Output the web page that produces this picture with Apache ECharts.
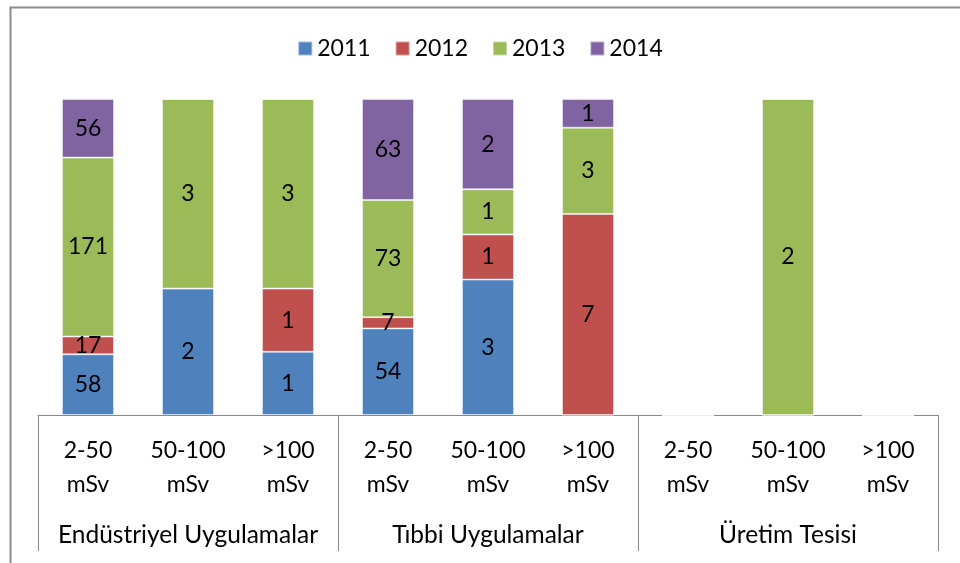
<!DOCTYPE html>
<html>
<head>
<meta charset="utf-8">
<script src="https://cdn.jsdelivr.net/npm/echarts@6/dist/echarts.min.js"></script>
<style>
  html, body { margin: 0; padding: 0; background: #fff; }
  #chart { width: 960px; height: 563px; }
</style>
</head>
<body>
<div id="chart"></div>
<script>
// dose ranges, repeated once per group
const categories = ['2-50\nmSv', '50-100\nmSv', '>100\nmSv',
                    '2-50\nmSv', '50-100\nmSv', '>100\nmSv',
                    '2-50\nmSv', '50-100\nmSv', '>100\nmSv'];
const groups = ['Endüstriyel Uygulamalar', 'Tıbbi Uygulamalar', 'Üretim Tesisi'];
const years = ['2011', '2012', '2013', '2014'];
const colors = ['#4F81BD', '#C0504D', '#9BBB59', '#8064A2'];

// raw counts per year (labels), bars are shown as share of column total
const v2011 = [58, 2, 1, 54, 3, 0, 0, 0, 0];
const v2012 = [17, 0, 1, 7, 1, 7, 0, 0, 0];
const v2013 = [171, 3, 3, 73, 1, 3, 0, 2, 0];
const v2014 = [56, 0, 0, 63, 2, 1, 0, 0, 0];

const raw = [v2011, v2012, v2013, v2014];
const totals = categories.map((c, i) => raw.reduce((s, arr) => s + arr[i], 0));
const pct = arr => arr.map((v, i) => totals[i] ? v / totals[i] * 100 : 0);

const font = 'Lato';
const chart = echarts.init(document.getElementById('chart'));

chart.setOption({
  animation: false,
  textStyle: { fontFamily: font },
  legend: {
    top: 32,
    left: 'center',
    icon: 'rect',
    itemWidth: 14,
    itemHeight: 14,
    itemGap: 24,
    selectedMode: false,
    textStyle: { fontSize: 23, color: '#000', fontFamily: font },
    data: years
  },
  grid: { left: 38, right: 22, top: 99, bottom: 148 },
  xAxis: [
    {
      type: 'category',
      data: categories,
      position: 'bottom',
      axisLine: { show: true, lineStyle: { color: '#898989', width: 1 } },
      axisTick: { show: false },
      axisLabel: {
        interval: 0, color: '#000', fontSize: 23, lineHeight: 34,
        margin: 19, fontFamily: font
      }
    },
    {
      type: 'category',
      data: groups,
      position: 'bottom',
      axisLine: { show: false },
      axisTick: { show: true, length: 136, lineStyle: { color: '#898989', width: 1 } },
      axisLabel: {
        interval: 0, color: '#000', fontSize: 24.5, lineHeight: 34,
        margin: 103, fontFamily: font
      }
    }
  ],
  yAxis: { type: 'value', min: 0, max: 100, show: false, splitLine: { show: false } },
  series: years.map((y, k) => ({
    name: y,
    type: 'bar',
    stack: 'share',
    xAxisIndex: 0,
    barWidth: 52,
    itemStyle: { color: colors[k], borderColor: 'rgba(255,255,255,0.45)', borderWidth: 1 },
    label: {
      show: true,
      position: 'inside',
      color: '#000',
      fontSize: 23,
      fontFamily: font,
      formatter: p => raw[k][p.dataIndex] ? String(raw[k][p.dataIndex]) : ''
    },
    data: pct(raw[k])
  })),
  graphic: [
    {
      type: 'rect',
      left: 8, top: 5,
      shape: { width: 980, height: 620 },
      style: { fill: 'none', stroke: '#8c8c8c', lineWidth: 2 },
      silent: true
    }
  ]
});
</script>
</body>
</html>
